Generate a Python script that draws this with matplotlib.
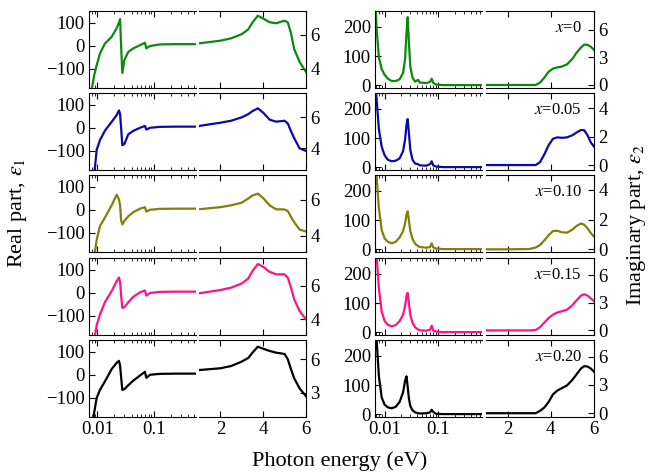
import numpy as np
import matplotlib
matplotlib.use("Agg")
import matplotlib.pyplot as plt
from matplotlib.ticker import FixedLocator, LogLocator, NullFormatter

plt.rcParams['font.family'] = ['Liberation Serif', 'DejaVu Serif']
plt.rcParams['mathtext.fontset'] = 'stix'
plt.rcParams['font.size'] = 13.5

conc = ['0', '0.05', '0.10', '0.15', '0.20']
colors = ['#0a8a0a', '#0a0aa8', '#80800a', '#ff1283', '#000000']

# real part, far-IR side (log energy scale)
e1_ir_x = [0.0079, 0.0088, 0.0097, 0.0111, 0.0136, 0.0179, 0.0219, 0.0240, 0.0251,
           0.0262, 0.0275, 0.0299, 0.0351, 0.0431, 0.0566, 0.0690, 0.0730, 0.0848,
           0.127, 0.25, 0.55]
e1_ir_y = [
    [-190, -125, -84, -33, 10, 39, 76, 100, 115, 0, -117, -62, -26, -11, 3, 13, -11, -1, 6, 7, 7],
    [-260, -200, -95, -53, -12, 26, 55, 75, 60, 0, -75, -70, -28, -13, 0, 8, -8, 0, 4, 5, 5],
    [-260, -200, -130, -70, -33, 20, 65, 45, 20, -45, -63, -48, -28, -10, 5, 11, -8, 0, 4, 5, 5],
    [-260, -200, -140, -93, -40, 8, 50, 66, 45, -10, -65, -62, -41, -17, 2, 10, -12, -1, 4, 5, 5],
    [-260, -160, -100, -65, -28, 25, 52, 60, 40, -10, -65, -62, -45, -25, -3, 13, -13, 0, 4, 5, 5],
]

# real part, visible/UV side (linear energy scale)
e1_vis_x = [1.0, 1.5, 2.0, 2.5, 3.0, 3.3, 3.5, 3.75, 4.0, 4.3, 4.6, 5.0, 5.15, 5.3, 5.45, 5.7, 6.0]
e1_vis_y = [
    [5.5, 5.58, 5.66, 5.8, 6.05, 6.33, 6.75, 7.15, 6.98, 6.76, 6.7, 6.85, 6.75, 6.1, 5.15, 4.4, 3.8],
    [5.44, 5.55, 5.65, 5.78, 6.0, 6.2, 6.4, 6.58, 6.3, 5.85, 5.72, 5.78, 5.6, 5.1, 4.65, 4.0, 3.83],
    [5.48, 5.54, 5.6, 5.7, 5.85, 6.08, 6.25, 6.35, 6.1, 5.7, 5.48, 5.47, 5.38, 5.05, 4.75, 4.35, 4.24],
    [5.56, 5.66, 5.76, 5.9, 6.15, 6.45, 6.9, 7.32, 7.15, 6.85, 6.7, 6.7, 6.5, 5.9, 5.2, 4.5, 4.0],
    [5.04, 5.12, 5.2, 5.4, 5.8, 6.12, 6.6, 7.13, 6.95, 6.75, 6.6, 6.48, 6.0, 5.1, 4.3, 3.4, 2.7],
]

# imaginary part, far-IR side
e2_ir_x = [0.0066, 0.0071, 0.0078, 0.0088, 0.0100, 0.0115, 0.0135, 0.0160, 0.0190, 0.0220,
           0.0240, 0.0255, 0.0268, 0.0282, 0.0300, 0.0330, 0.0370, 0.042, 0.045, 0.060,
           0.070, 0.0751, 0.080, 0.090, 0.12, 0.3, 0.65]
e2_ir_y = [
    [320, 190, 95, 55, 35, 22, 14, 14, 20, 42, 90, 180, 234, 150, 65, 25, 12, 18, 9, 7, 11, 22, 8, 2, 0, 0, 0],
    [300, 230, 130, 70, 40, 25, 20, 22, 30, 55, 95, 145, 165, 120, 60, 25, 12, 10, 6, 5, 10, 20, 6, 2, 0, 0, 0],
    [330, 245, 140, 65, 36, 25, 20, 25, 40, 62, 88, 118, 130, 100, 62, 35, 18, 10, 7, 5, 7, 20, 6, 2, 0, 0, 0],
    [330, 260, 150, 70, 38, 25, 20, 24, 38, 60, 90, 125, 135, 100, 60, 32, 16, 9, 6, 5, 8, 22, 6, 2, 0, 0, 0],
    [350, 250, 130, 57, 32, 23, 20, 25, 42, 75, 115, 130, 95, 55, 28, 13, 6, 3, 2, 3, 6, 15, 8, 1, 0, 0, 0],
]

# imaginary part, visible/UV side
e2_vis_x = [1.0, 2.0, 3.0, 3.3, 3.5, 3.7, 3.9, 4.1, 4.3, 4.5, 4.75, 5.0, 5.2, 5.4, 5.55, 5.7, 5.85, 6.0]
e2_vis_y = [
    [0, 0, 0, 0, 0.25, 0.8, 1.45, 1.78, 1.92, 2.0, 2.25, 2.85, 3.55, 4.1, 4.4, 4.38, 4.18, 3.82],
    [0, 0, 0, 0, 0.2, 0.75, 1.4, 1.85, 1.95, 1.92, 1.95, 2.1, 2.3, 2.47, 2.45, 2.1, 1.6, 1.3],
    [0, 0, 0.02, 0.12, 0.29, 0.6, 0.95, 1.23, 1.25, 1.15, 1.12, 1.33, 1.58, 1.74, 1.65, 1.41, 1.1, 0.85],
    [0, 0, 0, 0.05, 0.35, 0.85, 1.35, 1.72, 1.95, 2.08, 2.26, 2.75, 3.3, 3.8, 3.94, 3.8, 3.5, 3.19],
    [0, 0, 0, 0, 0.25, 0.6, 1.2, 2.0, 2.4, 2.65, 2.95, 3.55, 4.15, 4.75, 5.0, 4.95, 4.75, 4.41],
]

e1_vis_lim = [(2.84, 7.43), (2.6, 7.57), (3.1, 7.39), (3.06, 7.68), (0.84, 7.73)]
e1_vis_ticks = [[4, 6], [4, 6], [4, 6], [4, 6], [3, 6]]
e2_vis_lim = [(-0.33, 8.07), (-0.35, 5.08), (-0.18, 5.0), (-0.5, 7.9), (-0.4, 7.77)]
e2_vis_ticks = [[0, 3, 6], [0, 2, 4], [0, 2, 4], [0, 3, 6], [0, 3, 6]]

W, H = 649, 475
fig = plt.figure(figsize=(W / 100, H / 100), dpi=100)
row_top = [11, 93, 175, 258, 340]
rh = 77


def box(x0, x1, top):
    return [x0 / W, 1 - (top + rh) / H, (x1 - x0) / W, rh / H]


def ir_axis(ax, xlim, ylim, yticks, last):
    ax.set_xscale('log')
    ax.set_xlim(xlim)
    ax.set_ylim(ylim)
    ax.spines['right'].set_visible(False)
    ax.xaxis.set_major_locator(FixedLocator([0.01, 0.1]))
    ax.xaxis.set_minor_locator(LogLocator(base=10, subs=np.arange(2, 10)))
    ax.xaxis.set_minor_formatter(NullFormatter())
    ax.set_xticklabels(['0.01', '0.1'])
    ax.set_yticks(yticks)
    ax.tick_params(which='both', direction='in', top=True, right=False, labelbottom=last)
    ax.tick_params(which='major', length=4, pad=3)
    ax.tick_params(which='minor', length=2.5)


def vis_axis(ax, ylim, yticks, last):
    ax.set_xlim(1, 6)
    ax.set_ylim(ylim)
    ax.spines['left'].set_visible(False)
    ax.set_xticks([2, 4, 6])
    ax.set_yticks(yticks)
    ax.yaxis.tick_right()
    ax.tick_params(direction='in', top=True, left=False, right=True, length=4,
                   labelbottom=last, pad=3)


for i in range(5):
    last = i == 4
    top = row_top[i]
    c = colors[i]

    a = fig.add_axes(box(89, 196, top))
    a.plot(e1_ir_x, e1_ir_y[i], color=c, lw=1.6)
    ir_axis(a, (0.0071, 0.55), (-182, 150), [-100, 0, 100], last)

    b = fig.add_axes(box(199, 306, top))
    b.plot(e1_vis_x, e1_vis_y[i], color=c, lw=1.6)
    vis_axis(b, e1_vis_lim[i], e1_vis_ticks[i], last)

    a2 = fig.add_axes(box(375, 482, top))
    a2.plot(e2_ir_x, e2_ir_y[i], color=c, lw=1.6)
    ir_axis(a2, (0.0066, 0.65), (-10, 255), [0, 100, 200], last)

    b2 = fig.add_axes(box(486, 594, top))
    b2.plot(e2_vis_x, e2_vis_y[i], color=c, lw=1.6)
    vis_axis(b2, e2_vis_lim[i], e2_vis_ticks[i], last)
    b2.text(0.89, 0.78, r'$x$=' + conc[i], transform=b2.transAxes,
            ha='right', va='center', fontsize=12)

fig.text(340 / W, 1 - 461 / H, 'Photon energy (eV)', ha='center', va='center', fontsize=16)
fig.text(18 / W, 1 - 213 / H, r'Real part, $\varepsilon_1$', rotation=90,
         ha='center', va='center', fontsize=16)
fig.text(636 / W, 1 - 225 / H, r'Imaginary part, $\varepsilon_2$', rotation=90,
         ha='center', va='center', fontsize=16)

fig.savefig('out.png', dpi=100)
